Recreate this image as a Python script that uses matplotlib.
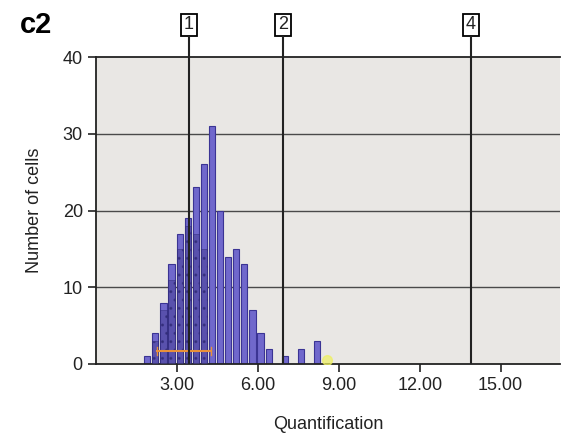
import numpy as np
import matplotlib.pyplot as plt

plt.rcParams['font.family'] = ['Liberation Sans', 'DejaVu Sans']

# histogram data (bin centres and counts)
centers = [1.9, 2.2, 2.5, 2.8, 3.1, 3.4, 3.7, 4.0, 4.3, 4.6, 4.9, 5.2, 5.5,
           5.8, 6.1, 6.4, 7.0, 7.6, 8.2]
counts = [1, 4, 8, 13, 17, 19, 23, 26, 31, 20, 14, 15, 13, 7, 4, 2, 1, 2, 3]

# overlaid dotted sub-population
sub_centers = [2.2, 2.5, 2.8, 3.1, 3.4, 3.7, 4.0]
sub_counts = [3, 7, 11, 15, 18, 17, 15]

# marker lines with labels
mark_x = [3.44, 6.93, 13.9]
mark_lab = ['1', '2', '4']

# orange range bar and yellow point
rng = (2.26, 4.26, 1.7)
pt = (8.55, 0.5)

fig = plt.figure(figsize=(5.63, 4.42), dpi=100)
ax = fig.add_axes([0.1705, 0.1765, 0.8242, 0.6945])
ax.set_facecolor('#e9e7e4')

ax.set_xlim(0, 17.2)
ax.set_ylim(0, 40)

for y in [10, 20, 30]:
    ax.axhline(y, color='#4a4a4a', lw=1.0, zorder=1)

ax.bar(centers, counts, width=0.23, color='#7068cc', edgecolor='#3b3494',
       lw=0.8, zorder=2)
ax.bar(sub_centers, sub_counts, width=0.23, color='#4a4399', edgecolor='#2b2670',
       lw=0.5, hatch='..', alpha=0.6, zorder=3)

ax.plot([rng[0], rng[1]], [rng[2], rng[2]], color='#e8903a', lw=1.5, zorder=4)
ax.plot([rng[0], rng[0]], [rng[2] - 0.5, rng[2] + 0.5], color='#e8903a', lw=1, zorder=4)
ax.plot([rng[1], rng[1]], [rng[2] - 0.5, rng[2] + 0.5], color='#e8903a', lw=1, zorder=4)
ax.plot(pt[0], pt[1], 'o', color='#eef060', ms=7, alpha=0.7, zorder=4)

for x, lab in zip(mark_x, mark_lab):
    ax.vlines(x, 0, 42.8, color='#222222', lw=1.5, clip_on=False, zorder=5)
    ax.text(x, 44.2, lab, ha='center', va='center', fontsize=13, color='#222222',
            bbox=dict(boxstyle='square,pad=0.15', fc='white', ec='black', lw=1.3))

for s in ['top', 'bottom', 'left']:
    ax.spines[s].set_linewidth(1.3)
    ax.spines[s].set_color('#222222')
ax.spines['right'].set_visible(False)

ax.set_xticks([3, 6, 9, 12, 15])
ax.set_xticklabels(['3.00', '6.00', '9.00', '12.00', '15.00'])
ax.set_yticks([0, 10, 20, 30, 40])
ax.tick_params(axis='both', labelsize=13, length=6, width=1.2, color='#222222',
               labelcolor='#222222')

ax.set_xlabel('Quantification', fontsize=13, color='#222222', labelpad=16)
ax.set_ylabel('Number of cells', fontsize=13, color='#222222', labelpad=14)

fig.text(0.035, 0.925, 'c2', fontsize=21, fontweight='bold')

fig.savefig('out.png', dpi=100)
